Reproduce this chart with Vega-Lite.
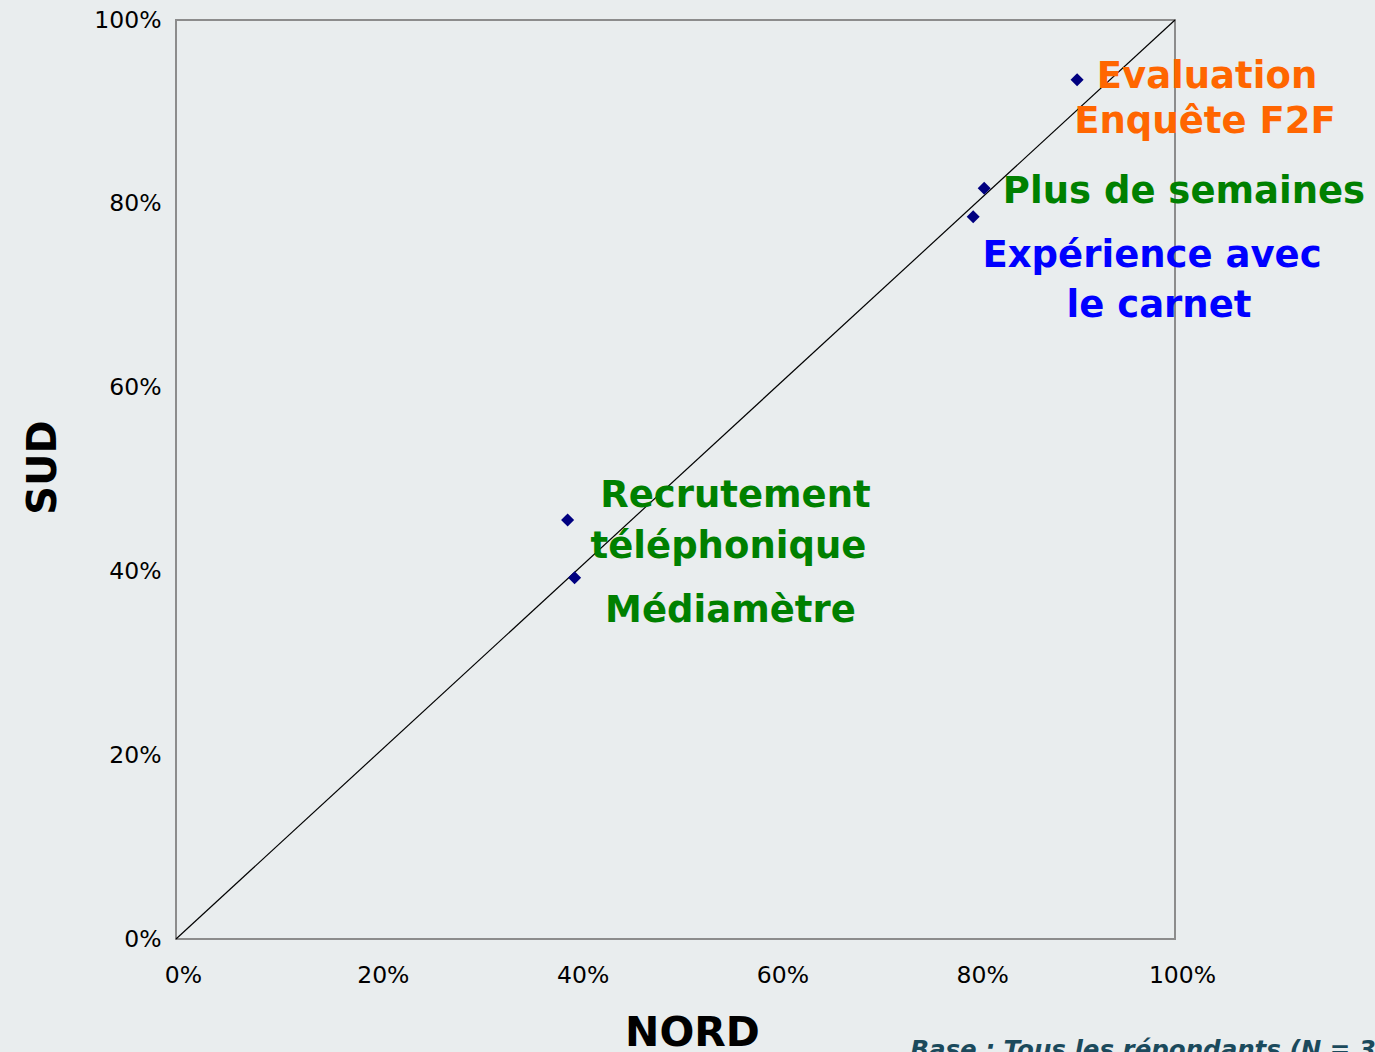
{
  "$schema": "https://vega.github.io/schema/vega-lite/v6.json",
  "width": 999,
  "height": 919,
  "autosize": {"type": "none"},
  "padding": {"left": 176, "top": 20, "right": 200, "bottom": 113},
  "background": "#e9edee",
  "config": {
    "view": {"stroke": "#8c8c8c", "strokeWidth": 2, "fill": "#e9edee"},
    "font": "DejaVu Sans"
  },
  "datasets": {
    "points": [
      {"nord": 0.902, "sud": 0.935},
      {"nord": 0.809, "sud": 0.817},
      {"nord": 0.798, "sud": 0.786},
      {"nord": 0.392, "sud": 0.456},
      {"nord": 0.399, "sud": 0.393}
    ],
    "labels": [
      {"text": "Evaluation", "nord": 1.032, "sud": 0.926, "groupe": "Evaluation"},
      {"text": "Enquête F2F", "nord": 1.030, "sud": 0.877, "groupe": "Evaluation"},
      {"text": "Plus de semaines", "nord": 1.009, "sud": 0.801, "groupe": "Méthode"},
      {"text": "Expérience avec", "nord": 0.977, "sud": 0.731, "groupe": "Expérience"},
      {"text": "le carnet", "nord": 0.984, "sud": 0.677, "groupe": "Expérience"},
      {"text": "Recrutement", "nord": 0.560, "sud": 0.470, "groupe": "Méthode"},
      {"text": "téléphonique", "nord": 0.553, "sud": 0.415, "groupe": "Méthode"},
      {"text": "Médiamètre", "nord": 0.555, "sud": 0.345, "groupe": "Méthode"}
    ],
    "diag": [{"x0": 0, "y0": 0, "x1": 1, "y1": 1}],
    "note": [{"text": "Base : Tous les répondants (N = 3", "nord": 0.735, "sud": -0.129}]
  },
  "layer": [
    {
      "data": {"name": "diag"},
      "mark": {"type": "rule", "color": "#000000", "strokeWidth": 1.2},
      "encoding": {
        "x": {"field": "x0", "type": "quantitative", "scale": {"domain": [0, 1]},
          "axis": {
            "title": "NORD", "format": "~%", "values": [0, 0.2, 0.4, 0.6, 0.8, 1],
            "grid": false, "ticks": false, "domain": false,
            "labelFont": "DejaVu Sans", "labelFontSize": 23.5, "labelColor": "#000000",
            "labelPadding": 24, "labelOffset": 7, "labelFlush": false,
            "titleFont": "DejaVu Sans", "titleFontSize": 41, "titleFontWeight": "bold", "titleColor": "#000000",
            "titleX": 516, "titleY": 106, "titleBaseline": "alphabetic", "titleAlign": "center"
          }},
        "y": {"field": "y0", "type": "quantitative", "scale": {"domain": [0, 1]},
          "axis": {
            "title": "SUD", "format": "~%", "values": [0, 0.2, 0.4, 0.6, 0.8, 1],
            "grid": false, "ticks": false, "domain": false,
            "labelFont": "DejaVu Sans", "labelFontSize": 23.5, "labelColor": "#000000",
            "labelPadding": 15, "labelFlush": false,
            "titleFont": "DejaVu Sans", "titleFontSize": 40, "titleFontWeight": "bold", "titleColor": "#000000",
            "titleAngle": 270, "titleX": -121, "titleY": 447, "titleBaseline": "alphabetic", "titleAlign": "center"
          }},
        "x2": {"field": "x1"},
        "y2": {"field": "y1"}
      }
    },
    {
      "data": {"name": "points"},
      "mark": {"type": "point", "shape": "diamond", "filled": true, "size": 170, "color": "#000080", "opacity": 1},
      "encoding": {
        "x": {"field": "nord", "type": "quantitative"},
        "y": {"field": "sud", "type": "quantitative"}
      }
    },
    {
      "data": {"name": "labels"},
      "mark": {"type": "text", "font": "DejaVu Sans", "fontWeight": "bold", "fontSize": 37, "align": "center", "baseline": "alphabetic"},
      "encoding": {
        "x": {"field": "nord", "type": "quantitative"},
        "y": {"field": "sud", "type": "quantitative"},
        "text": {"field": "text"},
        "color": {"field": "groupe", "type": "nominal", "legend": null,
          "scale": {"domain": ["Evaluation", "Méthode", "Expérience"], "range": ["#ff6600", "#008000", "#0000ff"]}}
      }
    },
    {
      "data": {"name": "note"},
      "mark": {"type": "text", "font": "DejaVu Sans", "fontWeight": "bold", "fontStyle": "italic", "fontSize": 24.5, "align": "left", "baseline": "alphabetic", "color": "#1b4a5c"},
      "encoding": {
        "x": {"field": "nord", "type": "quantitative"},
        "y": {"field": "sud", "type": "quantitative"},
        "text": {"field": "text"}
      }
    }
  ]
}
